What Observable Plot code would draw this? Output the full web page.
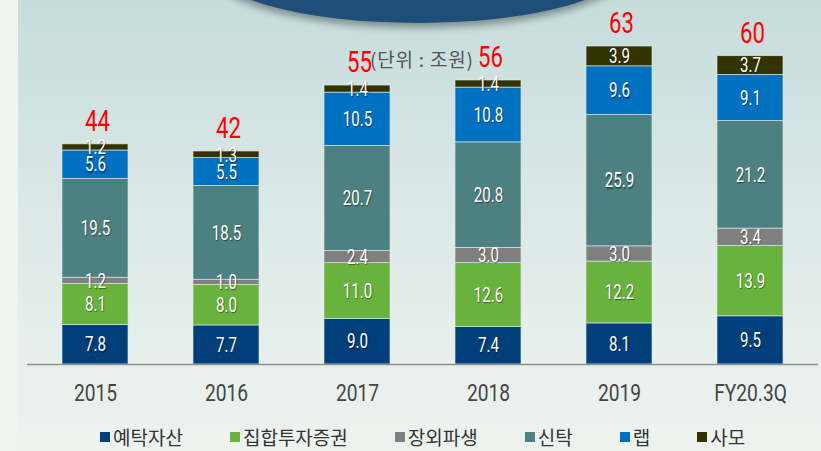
<!DOCTYPE html>
<html><head><meta charset="utf-8">
<script src="https://cdn.jsdelivr.net/npm/d3@7"></script>
<script src="https://cdn.jsdelivr.net/npm/@observablehq/plot@0.6"></script>
<style>
  html,body{margin:0;padding:0;}
  #wrap{position:relative;width:821px;height:451px;overflow:hidden;
    background:linear-gradient(180deg,#c6dcdd 0%,#d6e5e4 35%,#e4eeeb 70%,#eef3ef 100%);}
  #strip{position:absolute;left:0;top:0;width:18px;height:451px;background:#eef4ef;}
  #ellipse{position:absolute;left:206px;top:-97px;width:424px;height:120px;border-radius:50%;
    background:#1f4e79;box-shadow:0 5px 7px rgba(0,0,0,0.35);}
  #unit{position:absolute;left:370px;top:45px;font-family:"Noto Sans CJK KR",sans-serif;font-size:19px;letter-spacing:0.8px;color:#555;white-space:nowrap;}
  #chart{position:absolute;left:0;top:0;}
  #legend{position:absolute;left:100px;top:425px;display:flex;gap:47px;font-family:"Noto Sans CJK KR",sans-serif;font-size:19px;color:#333;line-height:24px;}
  #legend span.item{display:flex;align-items:center;white-space:nowrap;}
  #legend i{display:inline-block;width:10px;height:10px;margin-right:3px;}
</style>
</head><body>
<div id="wrap">
  <div id="strip"></div>
  <div id="ellipse"></div>
  <div id="chart"></div>
  <div id="unit">(단위 : 조원)</div>
  <div id="legend"></div>
</div>
<script>
const years = ["2015","2016","2017","2018","2019","FY20.3Q"];
const categories = ["예탁자산","집합투자증권","장외파생","신탁","랩","사모"];
const colors = ["#003f7a","#6ab23e","#808080","#4d8080","#0070c0","#333300"];
const deposit = [7.8, 7.7, 9.0, 7.4, 8.1, 9.5];
const fund    = [8.1, 8.0, 11.0, 12.6, 12.2, 13.9];
const otc     = [1.2, 1.0, 2.4, 3.0, 3.0, 3.4];
const trust   = [19.5, 18.5, 20.7, 20.8, 25.9, 21.2];
const wrap    = [5.6, 5.5, 10.5, 10.8, 9.6, 9.1];
const pe      = [1.2, 1.3, 1.4, 1.4, 3.9, 3.7];
const totalLabels = [44, 42, 55, 56, 63, 60];

const series = [deposit, fund, otc, trust, wrap, pe];
const rows = [];
years.forEach((yr, i) => categories.forEach((c, j) => rows.push({year: yr, cat: c, value: series[j][i]})));
const totals = years.map((yr, i) => ({year: yr, total: d3.sum(series, s => s[i]), label: String(totalLabels[i])}));

const font = 'Roboto,"Noto Sans",sans-serif';

const chart = Plot.plot({
  width: 821, height: 418,
  marginLeft: 27, marginRight: 3, marginTop: 9, marginBottom: 54,
  style: {background: "transparent", overflow: "visible"},
  x: {domain: years, paddingInner: 0.5, paddingOuter: 0.25, axis: null},
  y: {domain: [0, 70], axis: null},
  color: {domain: categories, range: colors},
  marks: [
    Plot.barY(rows, {x: "year", y: "value", fill: "cat", z: "cat", order: categories,
      stroke: "#dfeae8", strokeWidth: 0.8, strokeOpacity: 0.8}),
    Plot.text(rows, Plot.stackY({x: "year", y: "value", z: "cat", order: categories,
      text: d => d.value.toFixed(1), fill: "white", fontSize: 21, fontFamily: font})),
    Plot.ruleY([0], {stroke: "#8a8f8f", strokeWidth: 1.6}),
    Plot.axisX({domain: years, label: null, tickSize: 0, tickPadding: 19, fontSize: 24, fontFamily: font, fill: "#444"}),
    Plot.text(totals, {x: "year", y: "total", text: "label", dy: -23, dx: 2, fill: "#ff0000", fontSize: 30, fontFamily: font})
  ]
});
document.getElementById("chart").appendChild(chart);

// condense numeric texts horizontally (narrow typeface look)
function condense(group, s) {
  if (!group) return;
  group.querySelectorAll("text").forEach(t => {
    const tr = t.getAttribute("transform") || "";
    t.setAttribute("transform", `${tr} scale(${s},1)`);
  });
}
const textGroups = chart.querySelectorAll('g[aria-label="text"]');
condense(textGroups[0], 0.72);
if (textGroups[0]) textGroups[0].style.textShadow = "1px 1px 1px rgba(0,0,0,0.45)";
condense(textGroups[1], 0.74);
chart.querySelectorAll('g[aria-label$="tick label"]').forEach(g => condense(g, 0.8));

const legend = document.getElementById("legend");
categories.forEach((c, j) => {
  const s = document.createElement("span");
  s.className = "item";
  s.innerHTML = `<i style="background:${colors[j]}"></i>${c}`;
  legend.appendChild(s);
});
</script>
</body></html>
